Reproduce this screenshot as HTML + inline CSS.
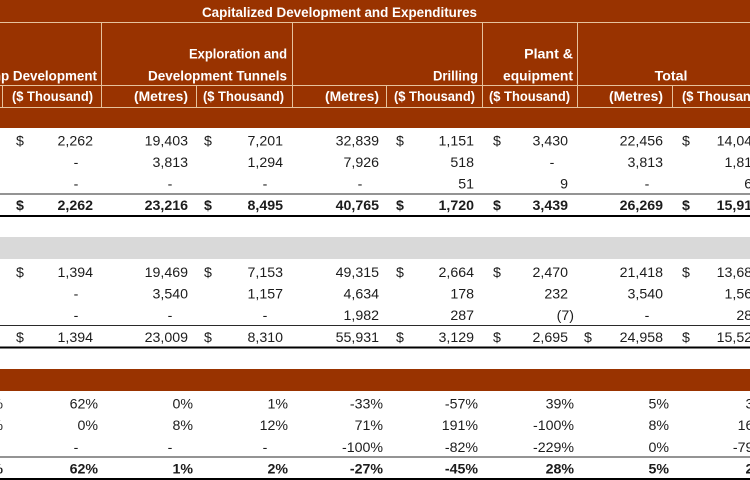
<!DOCTYPE html>
<html><head><meta charset="utf-8"><style>
html,body{margin:0;padding:0;background:#fff;width:750px;height:480px;overflow:hidden}
svg{display:block}
.h{font-family:"Liberation Sans",Arial,sans-serif;font-weight:bold;font-size:14.2px;fill:#fff}
.d{font-family:"Liberation Sans",Arial,sans-serif;font-size:14.2px;fill:#1c1c1c}
.b{font-weight:bold}
.e{text-anchor:end}
.m{text-anchor:middle}
</style></head><body>
<svg width="750" height="480" viewBox="0 0 750 480" xmlns="http://www.w3.org/2000/svg">
<!-- header background -->
<rect x="0" y="0" width="750" height="128" fill="#993300"/>
<rect x="0" y="237" width="750" height="22" fill="#d9d9d9"/>
<rect x="0" y="369" width="750" height="22" fill="#993300"/>
<!-- header lines -->
<g stroke="#e6c29c" stroke-width="1">
<line x1="0" y1="22.5" x2="750" y2="22.5"/>
<line x1="0" y1="85.5" x2="750" y2="85.5"/>
<line x1="0" y1="107.5" x2="750" y2="107.5"/>
<line x1="2.5" y1="85" x2="2.5" y2="107"/>
<line x1="101.5" y1="22" x2="101.5" y2="107"/>
<line x1="196.5" y1="85" x2="196.5" y2="107"/>
<line x1="292.5" y1="22" x2="292.5" y2="107"/>
<line x1="386.5" y1="85" x2="386.5" y2="107"/>
<line x1="482.5" y1="22" x2="482.5" y2="107"/>
<line x1="577.5" y1="22" x2="577.5" y2="107"/>
<line x1="672.5" y1="85" x2="672.5" y2="107"/>
</g>
<!-- header text -->
<text class="h m" x="339.5" y="17" textLength="275" lengthAdjust="spacingAndGlyphs">Capitalized Development and Expenditures</text>
<text class="h e" x="97" y="80.5" textLength="125" lengthAdjust="spacingAndGlyphs">Ramp Development</text>
<text class="h e" x="287" y="58.5" textLength="98" lengthAdjust="spacingAndGlyphs">Exploration and</text>
<text class="h e" x="287" y="80.5" textLength="139" lengthAdjust="spacingAndGlyphs">Development Tunnels</text>
<text class="h e" x="478" y="80.5" textLength="45" lengthAdjust="spacingAndGlyphs">Drilling</text>
<text class="h e" x="573" y="58.5">Plant &amp;</text>
<text class="h e" x="573" y="80.5" textLength="70" lengthAdjust="spacingAndGlyphs">equipment</text>
<text class="h m" x="671" y="80.5">Total</text>

<text class="h e" x="93" y="101" textLength="81" lengthAdjust="spacingAndGlyphs">($ Thousand)</text>
<text class="h e" x="188" y="101" textLength="54" lengthAdjust="spacingAndGlyphs">(Metres)</text>
<text class="h e" x="284" y="101" textLength="81" lengthAdjust="spacingAndGlyphs">($ Thousand)</text>
<text class="h e" x="379" y="101" textLength="54" lengthAdjust="spacingAndGlyphs">(Metres)</text>
<text class="h e" x="475" y="101" textLength="81" lengthAdjust="spacingAndGlyphs">($ Thousand)</text>
<text class="h e" x="570" y="101" textLength="81" lengthAdjust="spacingAndGlyphs">($ Thousand)</text>
<text class="h e" x="663" y="101" textLength="54" lengthAdjust="spacingAndGlyphs">(Metres)</text>
<text class="h" x="682" y="101" textLength="81" lengthAdjust="spacingAndGlyphs">($ Thousand)</text>

<!-- section 1 -->
<g class="d">
<text class="m" x="20" y="145.5">$</text>
<text class="e" x="93" y="145.5">2,262</text>
<text class="e" x="188" y="145.5">19,403</text>
<text class="m" x="208" y="145.5">$</text>
<text class="e" x="283" y="145.5">7,201</text>
<text class="e" x="379" y="145.5">32,839</text>
<text class="m" x="400" y="145.5">$</text>
<text class="e" x="474" y="145.5">1,151</text>
<text class="m" x="497" y="145.5">$</text>
<text class="e" x="568" y="145.5">3,430</text>
<text class="e" x="663" y="145.5">22,456</text>
<text class="m" x="686" y="145.5">$</text>
<text class="e" x="760" y="145.5">14,044</text>

<text class="m" x="76" y="167">-</text>
<text class="e" x="188" y="167">3,813</text>
<text class="e" x="283" y="167">1,294</text>
<text class="e" x="379" y="167">7,926</text>
<text class="e" x="474" y="167">518</text>
<text class="m" x="552" y="167">-</text>
<text class="e" x="663" y="167">3,813</text>
<text class="e" x="760" y="167">1,812</text>

<text class="m" x="76" y="188.5">-</text>
<text class="m" x="170" y="188.5">-</text>
<text class="m" x="265" y="188.5">-</text>
<text class="m" x="360" y="188.5">-</text>
<text class="e" x="474" y="188.5">51</text>
<text class="e" x="568" y="188.5">9</text>
<text class="m" x="647" y="188.5">-</text>
<text class="e" x="760" y="188.5">60</text>

<g class="b">
<text class="m" x="20" y="210">$</text>
<text class="e" x="93" y="210">2,262</text>
<text class="e" x="188" y="210">23,216</text>
<text class="m" x="208" y="210">$</text>
<text class="e" x="283" y="210">8,495</text>
<text class="e" x="379" y="210">40,765</text>
<text class="m" x="400" y="210">$</text>
<text class="e" x="474" y="210">1,720</text>
<text class="m" x="497" y="210">$</text>
<text class="e" x="568" y="210">3,439</text>
<text class="e" x="663" y="210">26,269</text>
<text class="m" x="686" y="210">$</text>
<text class="e" x="760" y="210">15,916</text>
</g>

<!-- section 2 -->
<text class="m" x="20" y="277">$</text>
<text class="e" x="93" y="277">1,394</text>
<text class="e" x="188" y="277">19,469</text>
<text class="m" x="208" y="277">$</text>
<text class="e" x="283" y="277">7,153</text>
<text class="e" x="379" y="277">49,315</text>
<text class="m" x="400" y="277">$</text>
<text class="e" x="474" y="277">2,664</text>
<text class="m" x="497" y="277">$</text>
<text class="e" x="568" y="277">2,470</text>
<text class="e" x="663" y="277">21,418</text>
<text class="m" x="686" y="277">$</text>
<text class="e" x="760" y="277">13,681</text>

<text class="m" x="76" y="298.5">-</text>
<text class="e" x="188" y="298.5">3,540</text>
<text class="e" x="283" y="298.5">1,157</text>
<text class="e" x="379" y="298.5">4,634</text>
<text class="e" x="474" y="298.5">178</text>
<text class="e" x="568" y="298.5">232</text>
<text class="e" x="663" y="298.5">3,540</text>
<text class="e" x="760" y="298.5">1,567</text>

<text class="m" x="76" y="320">-</text>
<text class="m" x="170" y="320">-</text>
<text class="m" x="265" y="320">-</text>
<text class="e" x="379" y="320">1,982</text>
<text class="e" x="474" y="320">287</text>
<text class="e" x="574" y="320">(7)</text>
<text class="m" x="647" y="320">-</text>
<text class="e" x="760" y="320">280</text>

<text class="m" x="20" y="342">$</text>
<text class="e" x="93" y="342">1,394</text>
<text class="e" x="188" y="342">23,009</text>
<text class="m" x="208" y="342">$</text>
<text class="e" x="283" y="342">8,310</text>
<text class="e" x="379" y="342">55,931</text>
<text class="m" x="400" y="342">$</text>
<text class="e" x="474" y="342">3,129</text>
<text class="m" x="497" y="342">$</text>
<text class="e" x="568" y="342">2,695</text>
<text class="m" x="588" y="342">$</text>
<text class="e" x="663" y="342">24,958</text>
<text class="m" x="686" y="342">$</text>
<text class="e" x="760" y="342">15,528</text>

<!-- section 3 -->
<text class="e" x="3" y="408.5">0%</text>
<text class="e" x="98" y="408.5">62%</text>
<text class="e" x="193" y="408.5">0%</text>
<text class="e" x="288" y="408.5">1%</text>
<text class="e" x="383" y="408.5">-33%</text>
<text class="e" x="478" y="408.5">-57%</text>
<text class="e" x="574" y="408.5">39%</text>
<text class="e" x="669" y="408.5">5%</text>
<text class="e" x="766" y="408.5">3%</text>

<text class="e" x="3" y="430">8%</text>
<text class="e" x="98" y="430">0%</text>
<text class="e" x="193" y="430">8%</text>
<text class="e" x="288" y="430">12%</text>
<text class="e" x="383" y="430">71%</text>
<text class="e" x="478" y="430">191%</text>
<text class="e" x="574" y="430">-100%</text>
<text class="e" x="669" y="430">8%</text>
<text class="e" x="766" y="430">16%</text>

<text class="m" x="76" y="452">-</text>
<text class="m" x="170" y="452">-</text>
<text class="m" x="265" y="452">-</text>
<text class="e" x="383" y="452">-100%</text>
<text class="e" x="478" y="452">-82%</text>
<text class="e" x="574" y="452">-229%</text>
<text class="e" x="669" y="452">0%</text>
<text class="e" x="766" y="452">-79%</text>

<g class="b">
<text class="e" x="3" y="473.5">1%</text>
<text class="e" x="98" y="473.5">62%</text>
<text class="e" x="193" y="473.5">1%</text>
<text class="e" x="288" y="473.5">2%</text>
<text class="e" x="383" y="473.5">-27%</text>
<text class="e" x="478" y="473.5">-45%</text>
<text class="e" x="574" y="473.5">28%</text>
<text class="e" x="669" y="473.5">5%</text>
<text class="e" x="766" y="473.5">2%</text>
</g>
</g>

<!-- rules -->
<g fill="#2a2a2a">
<rect x="0" y="193.5" width="750" height="1"/>
<rect x="0" y="215" width="750" height="2" fill="#000"/>
<rect x="0" y="325" width="750" height="1"/>
<rect x="0" y="346.5" width="750" height="2" fill="#000"/>
<rect x="0" y="456.5" width="750" height="1"/>
<rect x="0" y="478" width="750" height="2" fill="#000"/>
</g>
</svg>
</body></html>
